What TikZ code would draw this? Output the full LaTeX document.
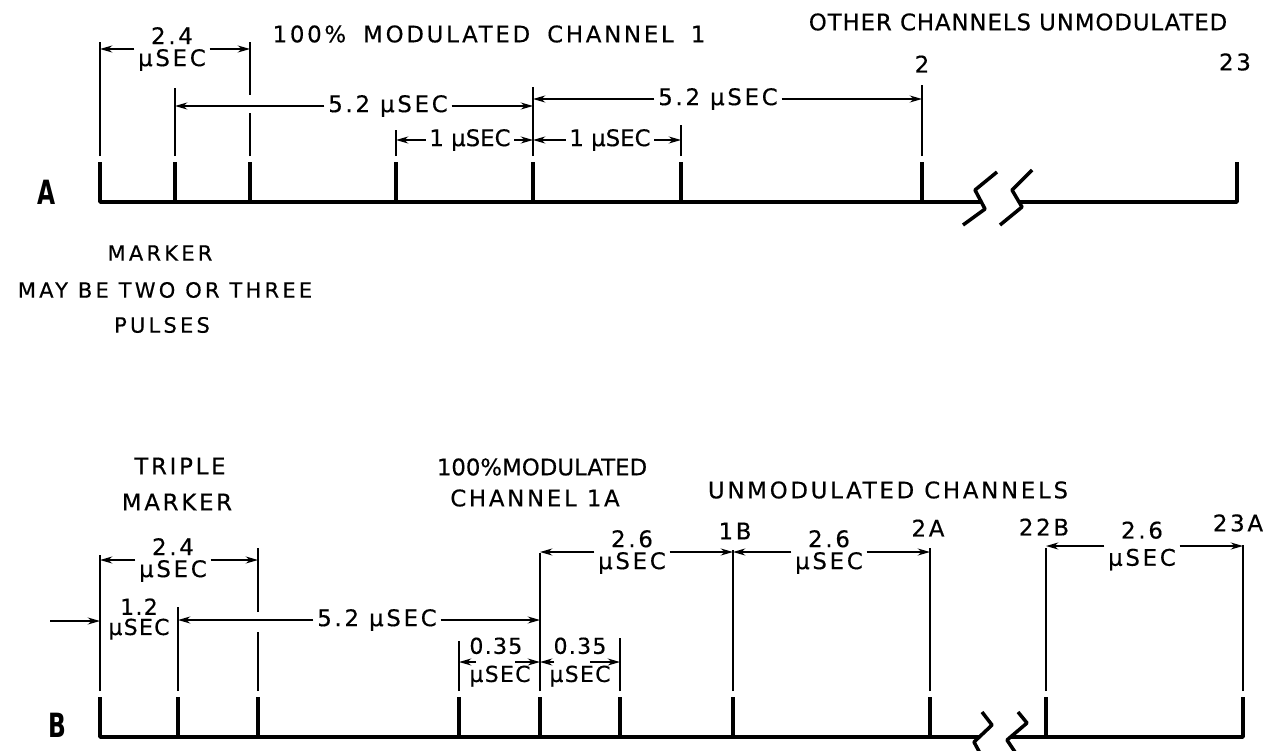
\documentclass[tikz,border=0pt]{standalone}
\usepackage{fontspec}
\usepackage{tikz}
\usetikzlibrary{arrows.meta, positioning}
\newfontfamily\lettering{DejaVu Sans}[LetterSpace=12, FakeBold=0.4]
\newfontfamily\tracefont{DejaVu Sans}[FakeStretch=0.7]

\begin{document}
\begin{tikzpicture}[x=0.02cm, y=-0.02cm,
  pulse/.style={line width=2pt, line join=round},
  extline/.style={line width=0.8pt},
  dimarrow/.style={line width=0.8pt, -{Stealth[length=7pt, width=4pt]}},
  legend/.style={font=\lettering\fontsize{13}{13}\selectfont, inner sep=1pt, align=center},
  tight/.style={font=\lettering\fontsize{13}{13}\selectfont\addfontfeature{LetterSpace=#1}},
  note/.style={font=\lettering\fontsize{12}{12}\selectfont\addfontfeature{LetterSpace=15}, inner sep=1pt},
  dimlabel/.style={font=\lettering\fontsize{13}{12.5}\selectfont, inner sep=2pt, align=center},
  tracename/.style={font=\tracefont\bfseries\fontsize{19}{20}\selectfont, inner sep=0pt}]

  \useasboundingbox (0,0) rectangle (1273,750);
  \fill[white] (0,0) rectangle (1273,750);

  % trace A
  \foreach \n/\x in {1/100,2/175,3/250,4/396,5/533,6/681,7/922,8/1237}
    \coordinate (a\n) at (\x,162);
  \draw[pulse] (a1) -- (100,202) -- (981,202);
  \draw[pulse] (1019,202) -- (1237,202) -- (a8);
  \foreach \n in {2,...,7}
    \draw[pulse] (a\n) -- ++(0,40);
  \draw[pulse] (963,225) -- (985,209) -- (975,190) -- (997,172);
  \draw[pulse] (1000,225) -- (1022,207) -- (1012,190) -- (1032,170);

  \foreach \n/\top in {1/42,2/88,4/130,5/87,6/125,7/85}
    \draw[extline] (a\n |- 0,156) -- (a\n |- 0,\top);
  \draw[extline] (a3 |- 0,156) -- (a3 |- 0,113);
  \draw[extline] (a3 |- 0,95) -- (a3 |- 0,42);

  \node[dimlabel] (lbl24a) at (172,49) {2.4\\µSEC};
  \draw[dimarrow] (lbl24a) -- (a1 |- lbl24a);
  \draw[dimarrow] (lbl24a) -- (a3 |- lbl24a);
  \node[dimlabel] (lbl52a) at (388,106) {5.2 µSEC};
  \draw[dimarrow] (lbl52a) -- (a2 |- lbl52a);
  \draw[dimarrow] (lbl52a) -- (a5 |- lbl52a);
  \node[dimlabel] (lbl52b) at (718,99) {5.2 µSEC};
  \draw[dimarrow] (lbl52b) -- (a5 |- lbl52b);
  \draw[dimarrow] (lbl52b) -- (a7 |- lbl52b);
  \node[dimlabel, tight=0] (lbl1a) at (470,140) {1 µSEC};
  \draw[dimarrow] (lbl1a) -- (a4 |- lbl1a);
  \draw[dimarrow] (lbl1a) -- (a5 |- lbl1a);
  \node[dimlabel, tight=0] (lbl1b) at (610,140) {1 µSEC};
  \draw[dimarrow] (lbl1b) -- (a5 |- lbl1b);
  \draw[dimarrow] (lbl1b) -- (a6 |- lbl1b);

  \node[legend] (modA) at (489,34) {100\%\hspace{4pt} MODULATED\hspace{4pt} CHANNEL\hspace{4pt} 1};
  \node[legend, tight=4] (otherA) at (1018,22) {OTHER CHANNELS UNMODULATED};
  \node[legend] (ch2) at (922,64) {2};
  \node[legend] (ch23) at (1235,62) {23};
  \node[tracename] (nameA) at (47,192) {A};
  \node[note] (markA) at (160,253) {MARKER};
  \node[note] (markB) at (165,290) {MAY BE TWO OR THREE};
  \node[note] (markC) at (162,325) {PULSES};

  % trace B
  \foreach \n/\x in {1/100,2/178,3/258,4/459,5/540,6/620,7/733,8/930,9/1046,10/1243}
    \coordinate (b\n) at (\x,697);
  \draw[pulse] (b1) -- (100,737) -- (979,737);
  \draw[pulse] (1011,737) -- (1243,737) -- (b10);
  \foreach \n in {2,...,9}
    \draw[pulse] (b\n) -- ++(0,40);
  \draw[pulse] (982,712) -- (992,725) -- (974,742) -- (981,755);
  \draw[pulse] (1018,712) -- (1027,723) -- (1007,740) -- (1017,755);

  \foreach \n/\top in {1/555,2/607,4/641,5/553,6/638,7/550,8/548,9/548,10/545}
    \draw[extline] (b\n |- 0,691) -- (b\n |- 0,\top);
  \draw[extline] (b3 |- 0,691) -- (b3 |- 0,632);
  \draw[extline] (b3 |- 0,612) -- (b3 |- 0,548);

  \node[dimlabel] (lbl24b) at (173,560) {2.4\\µSEC};
  \draw[dimarrow] (lbl24b) -- (b1 |- lbl24b);
  \draw[dimarrow] (lbl24b) -- (b3 |- lbl24b);
  \node[dimlabel, inner sep=0.5pt, font=\lettering\fontsize{12.5}{11.5}\selectfont\addfontfeature{LetterSpace=6}] (lbl12) at (139,619) {1.2\\µSEC};
  \coordinate (feed) at (50,621);
  \draw[dimarrow] (feed) -- (b1 |- feed);
  \node[dimlabel] (lbl52c) at (377,620) {5.2 µSEC};
  \draw[dimarrow] (lbl52c) -- (b2 |- lbl52c);
  \draw[dimarrow] (lbl52c) -- (b5 |- lbl52c);
  \node[dimlabel, align=left, inner sep=1pt, font=\lettering\fontsize{12.5}{12}\selectfont\addfontfeature{LetterSpace=6}] (lbl35a) at (500,662) {0.35\\[4pt]µSEC};
  \draw[dimarrow] ([xshift=5pt]lbl35a.west) -- (b4 |- lbl35a.west);
  \draw[dimarrow] ([xshift=-10pt]lbl35a.east) -- (b5 |- lbl35a.east);
  \node[dimlabel, inner sep=1pt, font=\lettering\fontsize{12.5}{12}\selectfont\addfontfeature{LetterSpace=6}] (lbl35b) at (580,662) {0.35\\[4pt]µSEC};
  \draw[dimarrow] ([xshift=4pt]lbl35b.west) -- (b5 |- lbl35b.west);
  \draw[dimarrow] ([xshift=-13pt]lbl35b.east) -- (b6 |- lbl35b.east);
  \node[dimlabel] (lbl26a) at (632,552) {2.6\\µSEC};
  \draw[dimarrow] (lbl26a) -- (b5 |- lbl26a);
  \draw[dimarrow] (lbl26a) -- (b7 |- lbl26a);
  \node[dimlabel] (lbl26b) at (829,552) {2.6\\µSEC};
  \draw[dimarrow] (lbl26b) -- (b7 |- lbl26b);
  \draw[dimarrow] (lbl26b) -- (b8 |- lbl26b);
  \node[dimlabel] (lbl26c) at (1142,546) {2.6\\[3pt]µSEC};
  \draw[dimarrow] (lbl26c) -- (b9 |- lbl26c);
  \draw[dimarrow] (lbl26c) -- (b10 |- lbl26c);

  \node[legend] (tripB) at (180,466) {TRIPLE};
  \node[legend] (markD) at (177,502) {MARKER};
  \node[legend, tight=0] (modB) at (542,467) {100\%MODULATED};
  \node[legend] (chB) at (535,498) {CHANNEL 1A};
  \node[legend] (unmodB) at (888,490) {UNMODULATED CHANNELS};
  \node[legend] (c1b) at (735,531) {1B};
  \node[legend] (c2a) at (928,528) {2A};
  \node[legend] (c22b) at (1044,527) {22B};
  \node[legend] (c23a) at (1238,523) {23A};
  \node[tracename] (nameB) at (57,725) {B};
\end{tikzpicture}
\end{document}
